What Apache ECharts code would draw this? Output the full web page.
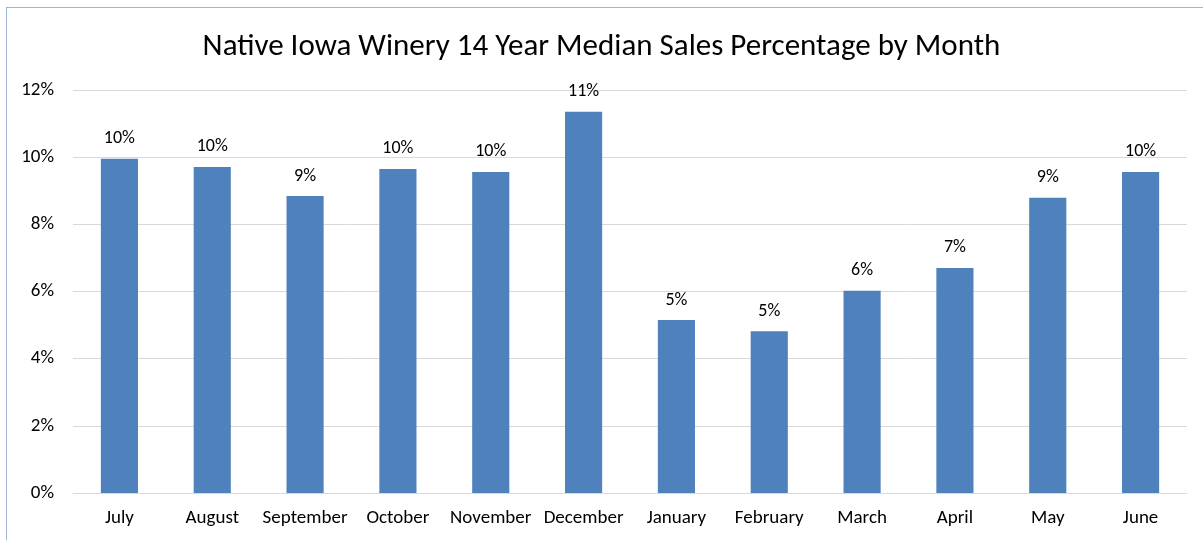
<!DOCTYPE html>
<html>
<head>
<meta charset="utf-8">
<script src="https://cdn.jsdelivr.net/npm/echarts@6/dist/echarts.min.js"></script>
<style>
  body { margin: 0; background: #fff; }
  #frame { position: absolute; left: 6px; top: 7px; width: 1197px; height: 533px;
           border-left: 1px solid #9DB3D8; border-top: 1px solid #9DB3D8; }
  #main { position: absolute; left: 0; top: 0; width: 1203px; height: 540px; }
</style>
</head>
<body>
<div id="frame"></div>
<div id="main"></div>
<script>
// chart data
var months = ['July', 'August', 'September', 'October', 'November', 'December',
              'January', 'February', 'March', 'April', 'May', 'June'];
var salesPct = [9.95, 9.71, 8.84, 9.65, 9.56, 11.35, 5.15, 4.82, 6.02, 6.70, 8.79, 9.56];
var yTicks = [0, 2, 4, 6, 8, 10, 12];

var font = 'Carlito, "Liberation Sans", sans-serif';
var chart = echarts.init(document.getElementById('main'));

chart.setOption({
  animation: false,
  title: {
    text: 'Native Iowa Winery 14 Year Median Sales Percentage by Month',
    left: 'center',
    top: 27,
    textStyle: { fontFamily: font, fontSize: 31, fontWeight: 'normal', color: '#000' }
  },
  grid: { left: 73, right: 16, top: 90, bottom: 47 },
  xAxis: {
    type: 'category',
    data: months,
    axisTick: { show: false },
    axisLine: { lineStyle: { color: '#D9D9D9', width: 1 } },
    axisLabel: { fontFamily: font, fontSize: 19, color: '#000', margin: 16, interval: 0 }
  },
  yAxis: {
    type: 'value',
    min: yTicks[0],
    max: yTicks[yTicks.length - 1],
    interval: 2,
    axisLine: { show: false },
    axisTick: { show: false },
    splitLine: { lineStyle: { color: '#D9D9D9', width: 1 } },
    axisLabel: { fontFamily: font, fontSize: 19, color: '#000', margin: 19,
                 formatter: function (v) { return v + '%'; } }
  },
  series: [{
    type: 'bar',
    data: salesPct,
    barWidth: '40%',
    itemStyle: { color: '#4F81BD' },
    label: {
      show: true,
      position: 'top',
      distance: 11,
      fontFamily: font,
      fontSize: 18,
      color: '#000',
      formatter: function (p) { return Math.round(p.value) + '%'; }
    }
  }]
});
</script>
</body>
</html>
